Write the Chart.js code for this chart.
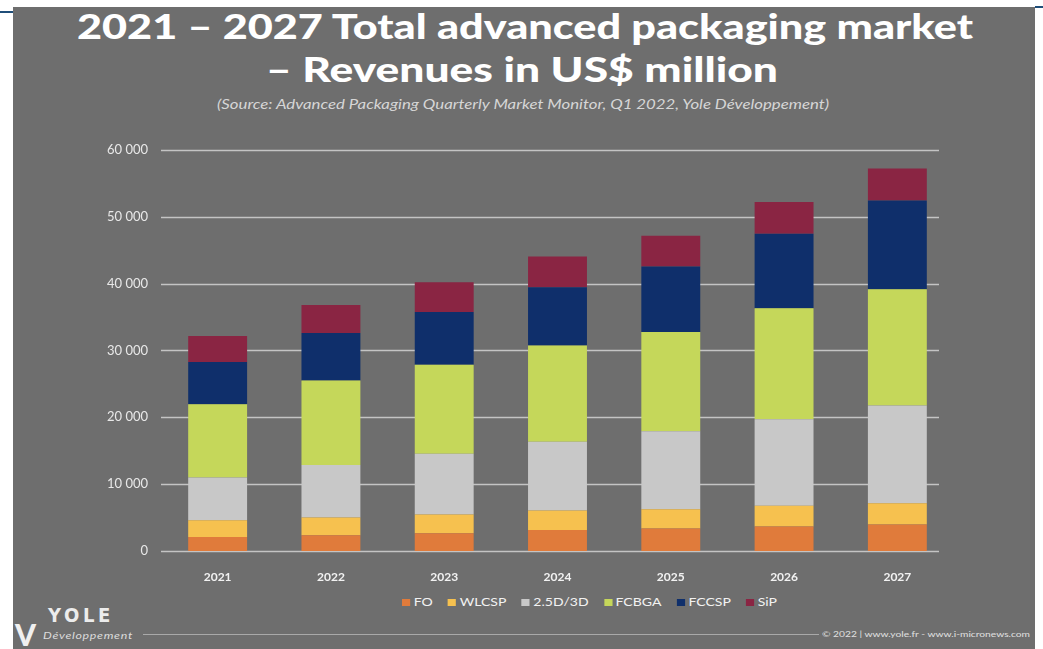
<!DOCTYPE html>
<html><head><meta charset="utf-8">
<script src="https://cdn.jsdelivr.net/npm/chart.js@4"></script>
<style>
html,body{margin:0;padding:0;background:#fff;width:1043px;height:649px;overflow:hidden;font-family:Lato,"Open Sans",sans-serif;}
#panel{position:absolute;left:13px;top:7px;width:1022px;height:642px;background:#6e6e6e;}
.bl{position:absolute;background:#1f4e79;}
.fit{position:absolute;white-space:nowrap;transform-origin:0 0;}
#t1,#t2{color:#fff;font-weight:900;font-size:34px;line-height:34px;}
#sub{color:#d6d6d6;font-style:italic;font-size:13px;line-height:14px;}
#legend{color:#f2f2f2;font-size:12px;line-height:12px;display:flex;align-items:center;}
#legend span.sq{display:inline-block;width:7px;height:7px;margin-right:3px;}
#legend span.it{display:inline-flex;align-items:center;margin-right:13px;}
#chartwrap{position:absolute;left:13px;top:137px;width:1022px;height:453px;}
#fline{position:absolute;left:143px;top:634px;width:676px;height:1px;background:#a9a9a9;}
#foot{color:#e0e0e0;font-size:7px;line-height:7px;}
#yole{color:#ececec;font-size:20px;line-height:20px;letter-spacing:4px;font-weight:bold;font-family:"DejaVu Sans",sans-serif;}
#dev{color:#dcdcdc;font-size:9px;line-height:9px;font-style:italic;letter-spacing:0.5px;}
#vmark{position:absolute;color:#f0f0f0;font-size:30px;line-height:30px;font-weight:900;left:15px;top:619px;}
</style></head>
<body>
<div class="bl" style="left:0;top:11px;width:13px;height:2px"></div>
<div class="bl" style="left:1035px;top:6px;width:8px;height:2px"></div>
<div id="panel"></div>
<div id="t1" class="fit" data-l="77" data-t="9" data-w="896">2021 – 2027 Total advanced packaging market</div>
<div id="t2" class="fit" data-l="266" data-t="52" data-w="512">– Revenues in US$ million</div>
<div id="sub" class="fit" data-l="217" data-t="97" data-w="612">(Source: Advanced Packaging Quarterly Market Monitor, Q1 2022, Yole Développement)</div>
<div id="chartwrap"><canvas id="c" width="1022" height="453"></canvas></div>
<div id="legend" class="fit" data-l="402" data-t="596" data-w="375"></div>
<div id="fline"></div>
<div id="foot" class="fit" data-l="822" data-t="631" data-w="208">© 2022 | www.yole.fr - www.i-micronews.com</div>
<div id="yole" class="fit" data-l="48" data-t="605" data-w="66">YOLE</div>
<div id="dev" class="fit" data-l="43" data-t="631" data-w="90">Développement</div>
<div id="vmark">V</div>
<script>
const categories = ['2021','2022','2023','2024','2025','2026','2027'];
const seriesNames = ['FO','WLCSP','2.5D/3D','FCBGA','FCCSP','SiP'];
const FO     = [2100, 2350, 2650, 3150, 3350, 3650, 3950];
const WLCSP  = [2500, 2650, 2800, 2900, 2900, 3100, 3200];
const D25_3D = [6400, 7850, 9100, 10300, 11650, 12950, 14600];
const FCBGA  = [10950, 12650, 13300, 14400, 14850, 16600, 17400];
const FCCSP  = [6300, 7100, 7900, 8700, 9800, 11150, 13250];
const SiP    = [3900, 4200, 4450, 4600, 4600, 4750, 4800];
const yTickLabels = ['0','10 000','20 000','30 000','40 000','50 000','60 000'];
const colors = ['#e07b3b','#f6c14f','#c8c8c8','#c5d75a','#0f2f6b','#8a2543'];
const seriesData = [FO, WLCSP, D25_3D, FCBGA, FCCSP, SiP];

// legend
const lg = document.getElementById('legend');
seriesNames.forEach((n,i)=>{
  const it=document.createElement('span');it.className='it';
  if(i===seriesNames.length-1) it.style.marginRight='0';
  const sq=document.createElement('span');sq.className='sq';sq.style.background=colors[i];
  it.appendChild(sq);it.appendChild(document.createTextNode(n));lg.appendChild(it);
});

// fit texts
document.querySelectorAll('.fit').forEach(el=>{
  el.style.left=el.dataset.l+'px';el.style.top=el.dataset.t+'px';
  const w=el.getBoundingClientRect().width;
  el.style.transform='scaleX('+(parseFloat(el.dataset.w)/w)+')';
});

const shortGrid = {
  id:'shortGrid',
  beforeDatasetsDraw(chart){
    const {ctx, chartArea, scales:{y}} = chart;
    ctx.save();
    ctx.strokeStyle='#c4c4c4';ctx.lineWidth=1.5;
    y.ticks.forEach(t=>{
      const py=Math.round(y.getPixelForValue(t.value))+0.5;
      ctx.beginPath();ctx.moveTo(chartArea.left,py);ctx.lineTo(chartArea.right-15,py);ctx.stroke();
    });
    ctx.restore();
  }
};

new Chart(document.getElementById('c'),{
  type:'bar',
  data:{labels:categories,datasets:seriesNames.map((n,i)=>({label:n,data:seriesData[i],backgroundColor:colors[i],borderWidth:0,barPercentage:0.52,categoryPercentage:1}))},
  options:{
    responsive:false,animation:false,devicePixelRatio:1,
    layout:{padding:{left:0,right:81,top:0,bottom:0}},
    plugins:{legend:{display:false},tooltip:{enabled:false}},
    scales:{
      x:{stacked:true,grid:{display:false},border:{display:false},
        ticks:{color:'#f2f2f2',font:{family:'Lato',size:12,weight:'bold'},padding:11},
        afterFit(s){s.height=39;}},
      y:{stacked:true,min:0,max:60000,grid:{display:false},border:{display:false},
        ticks:{stepSize:10000,color:'#e8e8e8',font:{family:'Lato',size:13},padding:5,
          callback:(v,i)=>yTickLabels[i]},
        afterFit(s){s.width=148;}}
    }
  },
  plugins:[shortGrid]
});
</script>
</body></html>
